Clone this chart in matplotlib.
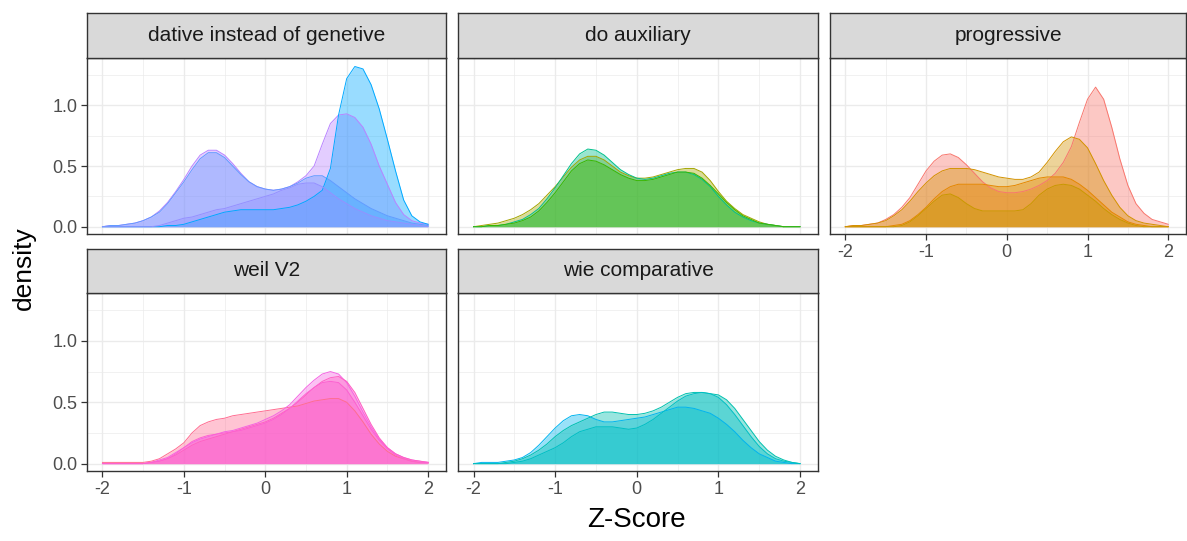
import matplotlib

matplotlib.use("Agg")

import matplotlib.pyplot as plt

plt.rcParams["font.family"] = ["Liberation Sans", "DejaVu Sans"]

Z = [-2.0, -1.9, -1.8, -1.7, -1.6, -1.5, -1.4, -1.3, -1.2, -1.1, -1.0,
     -0.9, -0.8, -0.7, -0.6, -0.5, -0.4, -0.3, -0.2, -0.1, 0.0,
     0.1, 0.2, 0.3, 0.4, 0.5, 0.6, 0.7, 0.8, 0.9, 1.0,
     1.1, 1.2, 1.3, 1.4, 1.5, 1.6, 1.7, 1.8, 1.9, 2.0]

FEATURES = ["dative instead of genetive", "do auxiliary", "progressive",
            "weil V2", "wie comparative"]

# --- dative instead of genetive ---
DATIVE_A = [0.00, 0.01, 0.01, 0.02, 0.03, 0.05, 0.08, 0.13, 0.20, 0.29, 0.39,
            0.50, 0.59, 0.63, 0.63, 0.59, 0.52, 0.44, 0.37, 0.33, 0.31,
            0.30, 0.31, 0.33, 0.37, 0.42, 0.50, 0.68, 0.85, 0.92, 0.93,
            0.90, 0.82, 0.68, 0.50, 0.35, 0.20, 0.10, 0.05, 0.03, 0.02]
DATIVE_B = [0.00, 0.01, 0.01, 0.02, 0.03, 0.05, 0.08, 0.12, 0.19, 0.28, 0.37,
            0.47, 0.56, 0.61, 0.61, 0.57, 0.50, 0.43, 0.37, 0.33, 0.31,
            0.30, 0.31, 0.33, 0.36, 0.40, 0.42, 0.42, 0.38, 0.33, 0.28,
            0.23, 0.19, 0.15, 0.12, 0.09, 0.07, 0.05, 0.03, 0.02, 0.01]
DATIVE_C = [0.00, 0.00, 0.00, 0.00, 0.00, 0.00, 0.00, 0.00, 0.01, 0.01, 0.02,
            0.04, 0.06, 0.08, 0.10, 0.12, 0.13, 0.14, 0.14, 0.14, 0.14,
            0.14, 0.15, 0.16, 0.18, 0.21, 0.25, 0.30, 0.48, 0.92, 1.22,
            1.32, 1.30, 1.17, 0.97, 0.72, 0.46, 0.22, 0.09, 0.04, 0.02]
DATIVE_D = [0.00, 0.00, 0.00, 0.00, 0.00, 0.00, 0.00, 0.01, 0.03, 0.05, 0.07,
            0.08, 0.10, 0.12, 0.14, 0.15, 0.17, 0.19, 0.21, 0.23, 0.25,
            0.27, 0.30, 0.32, 0.35, 0.36, 0.36, 0.33, 0.28, 0.23, 0.19,
            0.15, 0.12, 0.09, 0.07, 0.05, 0.04, 0.03, 0.02, 0.01, 0.00]

# --- do auxiliary ---
DO_A = [0.00, 0.01, 0.02, 0.03, 0.05, 0.07, 0.10, 0.14, 0.19, 0.26, 0.33,
        0.41, 0.49, 0.55, 0.58, 0.58, 0.55, 0.50, 0.45, 0.42, 0.40,
        0.40, 0.41, 0.43, 0.45, 0.47, 0.48, 0.48, 0.45, 0.38, 0.29,
        0.21, 0.15, 0.10, 0.07, 0.04, 0.02, 0.01, 0.00, 0.00, 0.00]
DO_B = [0.00, 0.00, 0.01, 0.01, 0.02, 0.04, 0.06, 0.10, 0.15, 0.23, 0.32,
        0.42, 0.52, 0.60, 0.64, 0.63, 0.59, 0.53, 0.47, 0.43, 0.40,
        0.39, 0.40, 0.42, 0.44, 0.45, 0.45, 0.43, 0.39, 0.33, 0.25,
        0.18, 0.12, 0.08, 0.05, 0.03, 0.02, 0.01, 0.00, 0.00, 0.00]
DO_C = [0.00, 0.00, 0.01, 0.01, 0.02, 0.03, 0.05, 0.08, 0.13, 0.20, 0.28,
        0.37, 0.46, 0.52, 0.55, 0.54, 0.51, 0.47, 0.43, 0.40, 0.38,
        0.38, 0.39, 0.41, 0.43, 0.45, 0.45, 0.44, 0.40, 0.34, 0.27,
        0.20, 0.14, 0.09, 0.06, 0.03, 0.02, 0.01, 0.00, 0.00, 0.00]

# --- progressive ---
PROG_A = [0.00, 0.01, 0.01, 0.02, 0.03, 0.06, 0.10, 0.16, 0.24, 0.35, 0.46,
          0.54, 0.59, 0.60, 0.57, 0.51, 0.44, 0.37, 0.32, 0.29, 0.28,
          0.28, 0.29, 0.31, 0.34, 0.38, 0.44, 0.53, 0.66, 0.86, 1.05,
          1.15, 1.05, 0.82, 0.56, 0.34, 0.19, 0.11, 0.06, 0.04, 0.02]
PROG_B = [0.00, 0.01, 0.01, 0.02, 0.03, 0.05, 0.09, 0.14, 0.21, 0.29, 0.36,
          0.42, 0.46, 0.48, 0.48, 0.48, 0.47, 0.45, 0.43, 0.41, 0.40,
          0.39, 0.39, 0.41, 0.45, 0.53, 0.62, 0.70, 0.74, 0.72, 0.65,
          0.52, 0.38, 0.26, 0.16, 0.09, 0.05, 0.03, 0.02, 0.01, 0.00]
PROG_C = [0.00, 0.00, 0.00, 0.00, 0.00, 0.00, 0.01, 0.02, 0.05, 0.10, 0.16,
          0.23, 0.29, 0.33, 0.35, 0.35, 0.35, 0.35, 0.34, 0.33, 0.33,
          0.34, 0.36, 0.38, 0.40, 0.41, 0.41, 0.41, 0.39, 0.35, 0.30,
          0.24, 0.18, 0.12, 0.08, 0.04, 0.02, 0.01, 0.00, 0.00, 0.00]
PROG_D = [0.00, 0.00, 0.00, 0.00, 0.00, 0.00, 0.00, 0.01, 0.04, 0.09, 0.15,
          0.21, 0.26, 0.27, 0.24, 0.19, 0.15, 0.13, 0.13, 0.13, 0.13,
          0.13, 0.14, 0.19, 0.26, 0.31, 0.34, 0.35, 0.34, 0.31, 0.26,
          0.21, 0.15, 0.10, 0.06, 0.03, 0.01, 0.00, 0.00, 0.00, 0.00]

# --- weil V2 ---
WEIL_A = [0.01, 0.01, 0.01, 0.01, 0.01, 0.01, 0.02, 0.04, 0.08, 0.12, 0.17,
          0.25, 0.31, 0.34, 0.36, 0.37, 0.39, 0.40, 0.41, 0.42, 0.43,
          0.44, 0.45, 0.46, 0.47, 0.49, 0.51, 0.52, 0.53, 0.53, 0.50,
          0.43, 0.34, 0.24, 0.16, 0.10, 0.06, 0.04, 0.02, 0.01, 0.01]
WEIL_B = [0.00, 0.00, 0.00, 0.00, 0.00, 0.00, 0.01, 0.03, 0.05, 0.09, 0.13,
          0.17, 0.20, 0.22, 0.24, 0.26, 0.27, 0.29, 0.31, 0.33, 0.36,
          0.39, 0.43, 0.48, 0.55, 0.62, 0.68, 0.73, 0.75, 0.73, 0.66,
          0.55, 0.42, 0.30, 0.20, 0.13, 0.08, 0.05, 0.03, 0.02, 0.01]
WEIL_C = [0.00, 0.00, 0.00, 0.00, 0.00, 0.00, 0.01, 0.02, 0.04, 0.07, 0.11,
          0.15, 0.18, 0.20, 0.22, 0.24, 0.26, 0.28, 0.30, 0.32, 0.34,
          0.37, 0.41, 0.45, 0.50, 0.56, 0.62, 0.67, 0.70, 0.71, 0.67,
          0.58, 0.45, 0.32, 0.21, 0.13, 0.08, 0.05, 0.03, 0.02, 0.01]
WEIL_D = [0.00, 0.00, 0.00, 0.00, 0.00, 0.00, 0.01, 0.02, 0.04, 0.08, 0.13,
          0.18, 0.21, 0.23, 0.24, 0.25, 0.26, 0.27, 0.29, 0.31, 0.33,
          0.36, 0.40, 0.45, 0.51, 0.57, 0.62, 0.66, 0.67, 0.66, 0.60,
          0.50, 0.39, 0.28, 0.19, 0.12, 0.07, 0.04, 0.02, 0.01, 0.01]

# --- wie comparative ---
WIE_A = [0.00, 0.01, 0.01, 0.01, 0.02, 0.03, 0.05, 0.09, 0.15, 0.22, 0.29,
         0.35, 0.39, 0.40, 0.39, 0.36, 0.34, 0.34, 0.35, 0.36, 0.37,
         0.38, 0.40, 0.42, 0.44, 0.46, 0.46, 0.45, 0.43, 0.41, 0.37,
         0.32, 0.26, 0.19, 0.13, 0.08, 0.05, 0.02, 0.01, 0.00, 0.00]
WIE_B = [0.00, 0.00, 0.00, 0.00, 0.01, 0.02, 0.04, 0.07, 0.11, 0.16, 0.22,
         0.27, 0.31, 0.34, 0.37, 0.40, 0.42, 0.42, 0.41, 0.40, 0.40,
         0.41, 0.43, 0.46, 0.50, 0.54, 0.57, 0.58, 0.58, 0.57, 0.56,
         0.52, 0.45, 0.36, 0.27, 0.18, 0.11, 0.06, 0.03, 0.01, 0.00]
WIE_C = [0.00, 0.00, 0.00, 0.00, 0.00, 0.01, 0.02, 0.04, 0.07, 0.10, 0.13,
         0.17, 0.22, 0.26, 0.28, 0.30, 0.30, 0.30, 0.29, 0.28, 0.29,
         0.32, 0.36, 0.41, 0.46, 0.51, 0.55, 0.57, 0.58, 0.57, 0.54,
         0.48, 0.40, 0.31, 0.22, 0.14, 0.08, 0.04, 0.02, 0.01, 0.00]

DENSIDADES = {
    "dative instead of genetive": [DATIVE_A, DATIVE_B, DATIVE_C, DATIVE_D],
    "do auxiliary": [DO_A, DO_B, DO_C],
    "progressive": [PROG_A, PROG_B, PROG_C, PROG_D],
    "weil V2": [WEIL_A, WEIL_B, WEIL_C, WEIL_D],
    "wie comparative": [WIE_A, WIE_B, WIE_C],
}

CORES = {
    "dative instead of genetive": ["#B983FF", "#619CFF", "#00A9FF", "#9590FF"],
    "do auxiliary": ["#A3A500", "#00C08B", "#39B600"],
    "progressive": ["#F8766D", "#D39200", "#E58700", "#C99800"],
    "weil V2": ["#FF6C91", "#F564E3", "#FF61C3", "#FD61D1"],
    "wie comparative": ["#00B4EF", "#00C0AF", "#00BFC4"],
}

X_TICKS = [-2, -1, 0, 1, 2]
Y_TICKS = [0.0, 0.5, 1.0]
Y_TICK_LABELS = ["0.0", "0.5", "1.0"]

W, H = 1187, 541
COLS = [(87, 446), (458, 818), (830, 1186)]
ROWS = [(13, 58, 234), (249, 293, 471)]  # strip top, panel top, panel bottom
XLIM = (-2.19, 2.22)
YLIM = (-0.06, 1.39)


def caixa(left, top, right, bottom):
    return [left / W, 1 - bottom / H, (right - left) / W, (bottom - top) / H]


fig = plt.figure(figsize=(W / 100, H / 100), dpi=100)

for i, feat in enumerate(FEATURES):
    r, c = divmod(i, 3)
    left, right = COLS[c]
    s_top, p_top, p_bot = ROWS[r]

    ax = fig.add_axes(caixa(left, p_top, right, p_bot))
    ax.set_xlim(*XLIM)
    ax.set_ylim(*YLIM)
    ax.set_xticks(X_TICKS)
    ax.set_xticks([-1.5, -0.5, 0.5, 1.5], minor=True)
    ax.set_yticks(Y_TICKS)
    ax.set_yticks([0.25, 0.75, 1.25], minor=True)
    ax.grid(True, which="major", color="#EBEBEB", linewidth=1.0)
    ax.grid(True, which="minor", color="#EBEBEB", linewidth=0.5)
    ax.set_axisbelow(True)
    for sp in ax.spines.values():
        sp.set_color("#333333")
        sp.set_linewidth(1.0)
    ax.tick_params(which="major", length=4, width=0.9, color="#333333",
                   labelsize=13, labelcolor="#4D4D4D", pad=3)
    ax.tick_params(which="minor", length=0)

    for ys, cor in zip(DENSIDADES[feat], CORES[feat]):
        ax.fill_between(Z, 0, ys, color=cor, alpha=0.4, linewidth=0)
        ax.plot(Z, ys, color=cor, linewidth=0.7)

    ax.set_yticklabels(Y_TICK_LABELS if c == 0 else [])
    if c != 0:
        ax.tick_params(axis="y", length=0)
    mostra_x = (r == 1) or (c == 2)
    ax.set_xticklabels([str(t) for t in X_TICKS] if mostra_x else [])
    if not mostra_x:
        ax.tick_params(axis="x", length=0)

    sx = fig.add_axes(caixa(left, s_top, right, p_top))
    sx.set_xticks([])
    sx.set_yticks([])
    sx.set_facecolor("#D9D9D9")
    for sp in sx.spines.values():
        sp.set_color("#333333")
        sp.set_linewidth(1.0)
    sx.text(0.5, 0.5, feat, ha="center", va="center", fontsize=15,
            color="#1A1A1A", transform=sx.transAxes)

fig.text(636 / W, 1 - 520 / H, "Z-Score", ha="center", va="center",
         fontsize=20, color="black")
fig.text(24 / W, 1 - 268 / H, "density", ha="center", va="center",
         rotation=90, fontsize=19, color="black")

fig.savefig("out.png", dpi=100)
